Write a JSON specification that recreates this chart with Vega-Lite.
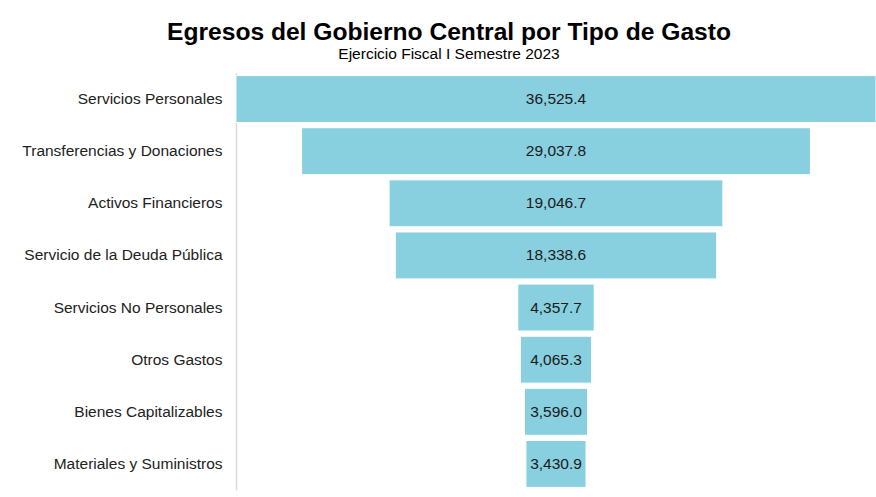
{
  "$schema": "https://vega.github.io/schema/vega-lite/v6.json",
  "autosize": "none",
  "width": 640,
  "height": 417,
  "padding": {"left": 236, "top": 73, "right": 0, "bottom": 7},
  "background": "white",
  "config": {"view": {"stroke": null}, "font": "Liberation Sans"},
  "title": {
    "text": "Egresos del Gobierno Central por Tipo de Gasto",
    "subtitle": "Ejercicio Fiscal I Semestre 2023",
    "anchor": "middle",
    "dx": -107,
    "offset": 10,
    "font": "Liberation Sans",
    "fontSize": 24.6,
    "fontWeight": "bold",
    "color": "#000000",
    "subtitleFont": "Liberation Sans",
    "subtitleFontSize": 15.5,
    "subtitleColor": "#000000",
    "subtitlePadding": 1
  },
  "data": {
    "values": [
      {"tipo": "Servicios Personales", "valor": 36525.4},
      {"tipo": "Transferencias y Donaciones", "valor": 29037.8},
      {"tipo": "Activos Financieros", "valor": 19046.7},
      {"tipo": "Servicio de la Deuda Pública", "valor": 18338.6},
      {"tipo": "Servicios No Personales", "valor": 4357.7},
      {"tipo": "Otros Gastos", "valor": 4065.3},
      {"tipo": "Bienes Capitalizables", "valor": 3596.0},
      {"tipo": "Materiales y Suministros", "valor": 3430.9}
    ]
  },
  "encoding": {
    "y": {
      "field": "tipo",
      "type": "nominal",
      "sort": null,
      "scale": {"paddingInner": 0.1, "paddingOuter": 0.05},
      "axis": {
        "title": null,
        "ticks": false,
        "labelPadding": 14,
        "labelFontSize": 15.5,
        "labelLimit": 300,
        "labelColor": "#222222",
        "labelFont": "Liberation Sans",
        "domainColor": "#d9d9d9",
        "domainWidth": 1.5
      }
    }
  },
  "layer": [
    {
      "mark": {"type": "bar", "color": "#88cfdf", "stroke": "#ffffff", "strokeWidth": 1},
      "encoding": {
        "x": {
          "field": "valor",
          "type": "quantitative",
          "stack": "center",
          "scale": {"domain": [0, 36525.4], "nice": false},
          "axis": null
        }
      }
    },
    {
      "mark": {"type": "text", "fontSize": 15.5, "color": "#1a1a1a", "font": "Liberation Sans"},
      "encoding": {
        "x": {"datum": 18262.7, "type": "quantitative"},
        "text": {"field": "valor", "type": "quantitative", "format": ",.1f"}
      }
    }
  ]
}
